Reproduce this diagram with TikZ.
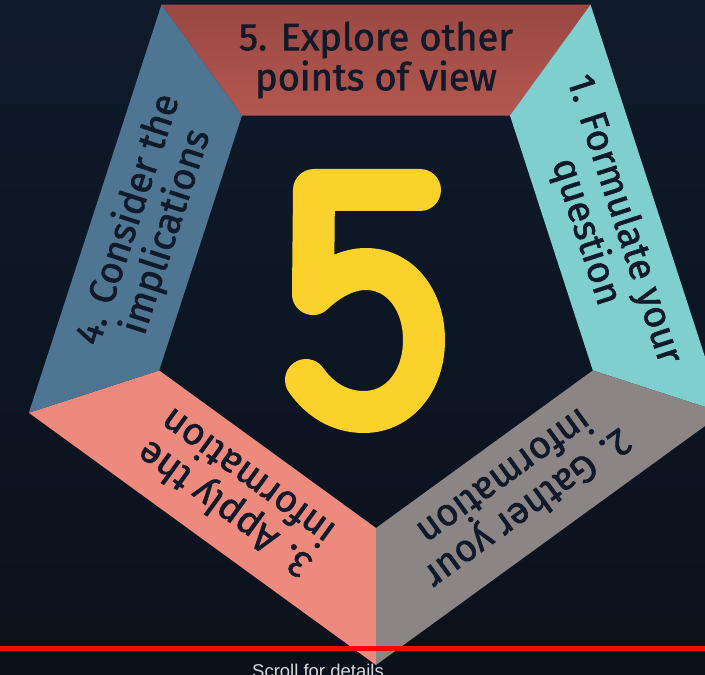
\documentclass[tikz,border=0pt]{standalone}
\usepackage{fontspec}
\setmainfont{Fira Sans}[FakeBold=1.6]
\newfontfamily\uifont{Liberation Sans}
\definecolor{bgtop}{HTML}{0F1A2B}
\definecolor{bgbottom}{HTML}{0A111B}
\definecolor{redtop}{HTML}{9A4843}
\definecolor{redbase}{HTML}{B3574F}
\definecolor{cyanbase}{HTML}{80CFCF}
\definecolor{graybase}{HTML}{8B8585}
\definecolor{salmonbase}{HTML}{EE8A7D}
\definecolor{bluebase}{HTML}{4E7592}
\definecolor{fiveyellow}{HTML}{FBD22B}
\definecolor{labelink}{HTML}{111A2A}
\definecolor{progred}{HTML}{FF0000}
\definecolor{scrollgray}{HTML}{D9D9D9}

\begin{document}
\begin{tikzpicture}[x=1pt, y=1pt,
	every node/.style={font=\fontsize{38}{40}\selectfont, text=labelink, align=center, inner sep=0pt},
	redseg/.style={top color=redtop, bottom color=redbase},
	cyanseg/.style={fill=cyanbase},
	grayseg/.style={fill=graybase},
	salmonseg/.style={fill=salmonbase},
	blueseg/.style={fill=bluebase}]
	\useasboundingbox (-376,-375) rectangle (329,300);
	\clip (-376,-375) rectangle (329,300);
	\shade[top color=bgtop, bottom color=bgbottom] (-376,-375) rectangle (329,300);
	\foreach \ang/\sty/\txt [count=\i] in {
		90/redseg/{5. Explore other\\points of view},
		18/cyanseg/{1. Formulate your\\question},
		-54/grayseg/{2. Gather your\\information},
		-126/salmonseg/{3. Apply the\\information},
		162/blueseg/{4. Consider the\\implications}}{
		\path[\sty] (\ang-36:365) -- (\ang+36:365) -- (\ang+36:228) -- (\ang-36:228) -- cycle;
		\node[rotate=\ang-90] (seg\i) at (\ang:240) {\txt};
	}
	\begin{scope}[shift={(-376,300)}, yscale=-1]
		\draw[fiveyellow, line width=42, line cap=round, line join=round]
			(420,190) -- (314,190) -- (313,294)
			.. controls (330,278) and (348,269) .. (366,269)
			.. controls (400,269) and (424,300) .. (424,340)
			.. controls (424,382) and (398,412) .. (364,412)
			.. controls (340,412) and (320,400) .. (306,380);
		\fill[progred] (0,646) rectangle (705,651);
		\node[font=\uifont\fontsize{18.5}{18.5}\selectfont, text=scrollgray, anchor=base] (scroll) at (318,677) {Scroll for details};
	\end{scope}
\end{tikzpicture}
\end{document}
